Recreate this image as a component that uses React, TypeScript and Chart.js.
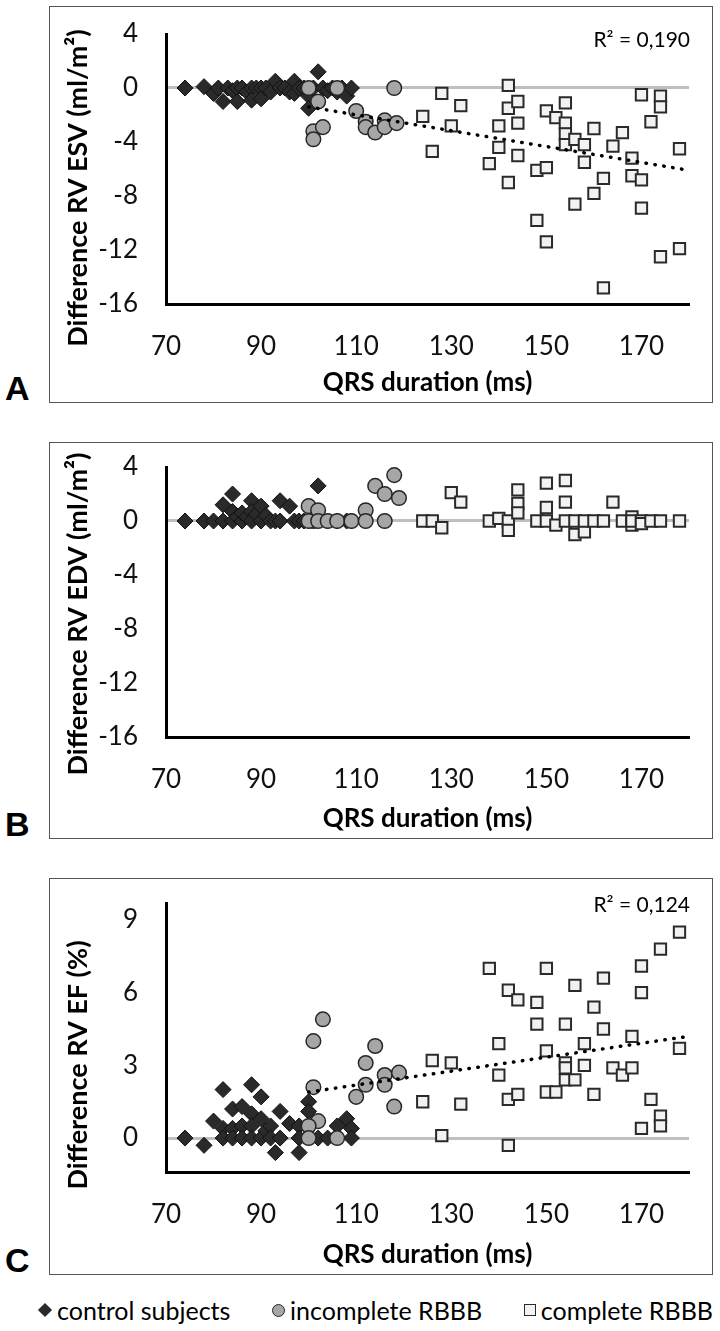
import React, { useEffect, useRef } from "react";
import { Chart, registerables } from "chart.js";

Chart.register(...registerables);
Chart.defaults.font.family = "Lato";

type Pt = [number, number];

// ---- shared axes ----
const xTicks = [70, 90, 110, 130, 150, 170];
const xRange: Pt = [70, 180];
const volumeTicks = [4, 0, -4, -8, -12, -16];
const volumeRange: Pt = [-16, 4];
const efTicks = [9, 6, 3, 0];
const efRange: Pt = [-1.4, 9.7];

const seriesNames = ["control subjects", "incomplete RBBB", "complete RBBB"];
const xTitle = "QRS duration (ms)";

// ---- panel A: ESV ----
const controlESV: Pt[] = [
  [74, 0], [78, 0.1], [80, -0.4], [81, 0], [82, -1.0], [83, 0], [84, -0.2], [85, 0], [85, -1.0],
  [86, 0], [87, -0.3], [88, 0], [88, -0.9], [89, 0], [90, 0], [90, -0.8], [91, 0], [92, -0.3],
  [93, 0.5], [94, 0], [95, 0], [96, -0.3], [97, 0.5], [97, -0.4], [98, 0], [99, 0], [100, -0.6],
  [100, -1.5], [101, 0], [102, 1.2], [103, 0], [104, -0.2], [105, 0], [106, -0.3], [107, 0],
  [108, -0.6], [109, 0],
];
const incompleteESV: Pt[] = [
  [100, 0], [102, -1.0], [106, 0], [118, 0], [101, -3.2], [101, -3.8], [103, -2.9], [110, -1.7],
  [112, -2.5], [112, -2.9], [114, -3.3], [116, -2.4], [116, -2.9], [118.5, -2.6],
];
const completeESV: Pt[] = [
  [124, -2.1], [126, -4.7], [128, -0.4], [130, -2.8], [132, -1.3], [138, -5.6], [140, -2.8],
  [140, -4.4], [142, 0.2], [142, -1.5], [142, -7.0], [144, -1.0], [144, -2.6], [144, -5.0],
  [148, -6.1], [148, -9.8], [150, -5.9], [150, -11.4], [150, -1.7], [152, -2.2], [154, -1.1],
  [154, -2.6], [154, -3.4], [154, -4.2], [156, -3.8], [156, -8.6], [158, -4.2], [158, -5.5],
  [160, -3.0], [160, -7.8], [162, -6.7], [162, -14.8], [164, -4.3], [166, -3.3], [168, -5.2],
  [168, -6.5], [170, -6.8], [170, -8.9], [170, -0.5], [172, -2.5], [174, -0.6], [174, -1.4],
  [174, -12.5], [178, -4.5], [178, -11.9],
];
const trendESV: Pt[] = [[100, -1.4], [180, -6.1]];
const r2ESV = "R² = 0,190";

// ---- panel B: EDV ----
const controlEDV: Pt[] = [
  [74, 0], [78, 0], [80, 0], [82, 1.2], [82, 0], [84, 2.0], [84, 0.7], [84, 0], [85, 0.3], [86, 0],
  [86, 0.6], [87, 0.3], [88, 1.5], [88, 0.7], [88, 0], [89, 0.5], [90, 1.1], [90, 0], [91, 0.4],
  [92, 0], [93, 0], [94, 1.5], [94, 0], [96, 1.1], [97, 0], [98, 0], [99, 0], [102, 2.6], [104, 0],
  [106, 0], [108, 0], [109, 0],
];
const incompleteEDV: Pt[] = [
  [100, 1.1], [101, 0], [100, 0], [102, 0.8], [102, 0], [104, 0], [106, 0], [109, 0], [112, 0.8],
  [112, 0], [114, 2.6], [116, 2.0], [116, 0], [118, 3.4], [119, 1.7],
];
const completeEDV: Pt[] = [
  [124, 0], [126, 0], [128, -0.5], [130, 2.1], [132, 1.4], [138, 0], [140, 0.2], [142, 0],
  [142, -0.7], [144, 2.3], [144, 1.3], [144, 0.6], [148, 0], [150, 2.8], [150, 1.0], [150, 0],
  [152, -0.3], [154, 3.0], [154, 1.4], [154, 0], [156, 0], [156, -1.0], [158, -0.8], [158, 0],
  [160, 0], [162, 0], [164, 1.4], [166, 0], [168, 0.3], [168, -0.3], [168, 0], [170, 0],
  [170, -0.2], [172, 0], [174, 0], [178, 0],
];

// ---- panel C: EF ----
const controlEF: Pt[] = [
  [74, 0], [78, -0.3], [80, 0.7], [82, 2.0], [82, 0.4], [82, 0], [84, 1.2], [84, 0.4], [84, 0],
  [86, 1.3], [86, 0.5], [86, 0], [88, 2.2], [88, 1.0], [88, 0.5], [88, 0], [90, 1.7], [90, 0.8],
  [90, 0], [91, 0.3], [92, 0.5], [92, 0], [93, -0.6], [94, 1.1], [94, 0], [96, 0.6], [98, 0.5],
  [98, 0], [98, -0.6], [100, 1.5], [100, 1.1], [100, 0.5], [102, 0], [104, 0], [106, 0.5],
  [108, 0.8], [109, 0.4], [109, 0],
];
const incompleteEF: Pt[] = [
  [103, 4.9], [101, 4.0], [101, 2.1], [102, 0.7], [100, 0.5], [100, 0], [106, 0], [114, 3.8],
  [112, 3.1], [110, 1.7], [112, 2.2], [116, 2.6], [116, 2.2], [119, 2.7], [118, 1.3],
];
const completeEF: Pt[] = [
  [124, 1.5], [126, 3.2], [128, 0.1], [130, 3.1], [132, 1.4], [138, 7.0], [140, 3.9], [140, 2.6],
  [142, 6.1], [142, 1.6], [142, -0.3], [144, 5.7], [144, 1.8], [148, 5.6], [148, 4.7], [150, 7.0],
  [150, 3.6], [150, 1.9], [152, 1.9], [154, 4.7], [154, 3.1], [154, 2.9], [154, 2.4], [156, 6.3],
  [156, 2.4], [158, 3.9], [158, 3.0], [160, 5.4], [160, 1.8], [162, 6.6], [162, 4.5], [164, 2.9],
  [166, 2.6], [168, 4.2], [168, 2.9], [170, 7.1], [170, 6.0], [170, 0.4], [172, 1.6], [174, 7.8],
  [174, 0.9], [174, 0.5], [178, 8.5], [178, 3.7],
];
const trendEF: Pt[] = [[100, 1.9], [180, 4.2]];
const r2EF = "R² = 0,124";

// ---- layout ----
const BOX_LEFT = 49;
const BOX_W = 664;
const BOX_H = 397;
const Y_AXIS_W = 117;
const RIGHT_PAD = 24;

interface PanelDef {
  letter: string;
  top: number;
  yTitle: string;
  ticks: number[];
  range: Pt;
  control: Pt[];
  incomplete: Pt[];
  complete: Pt[];
  trend?: Pt[];
  r2?: string;
  plotTop: number;
  plotBottom: number;
  yTitleY: number;
  r2Y: number;
}

const panels: PanelDef[] = [
  {
    letter: "A", top: 6, yTitle: "Difference RV ESV (ml/m²)", ticks: volumeTicks, range: volumeRange,
    control: controlESV, incomplete: incompleteESV, complete: completeESV, trend: trendESV, r2: r2ESV,
    plotTop: 28, plotBottom: 298, yTitleY: 182, r2Y: 34,
  },
  {
    letter: "B", top: 442, yTitle: "Difference RV EDV (ml/m²)", ticks: volumeTicks, range: volumeRange,
    control: controlEDV, incomplete: incompleteEDV, complete: completeEDV,
    plotTop: 25, plotBottom: 295, yTitleY: 172, r2Y: 0,
  },
  {
    letter: "C", top: 878, yTitle: "Difference RV EF (%)", ticks: efTicks, range: efRange,
    control: controlEF, incomplete: incompleteEF, complete: completeEF, trend: trendEF, r2: r2EF,
    plotTop: 25, plotBottom: 294, yTitleY: 187, r2Y: 27,
  },
];

const toXY = (arr: Pt[]) => arr.map(([x, y]) => ({ x, y }));

const overlayText = {
  id: "overlayText",
  afterDraw(chart: any, _args: any, opts: any) {
    const ctx = chart.ctx as CanvasRenderingContext2D;
    ctx.save();
    ctx.fillStyle = "#000";
    ctx.font = "bold 27px Lato";
    ctx.textAlign = "center";
    ctx.textBaseline = "middle";
    ctx.translate(opts.yTitleX, opts.yTitleY);
    ctx.rotate(-Math.PI / 2);
    ctx.fillText(opts.yTitle, 0, 0);
    ctx.restore();
    if (opts.r2) {
      ctx.save();
      ctx.fillStyle = "#000";
      ctx.font = "21px Lato";
      ctx.textAlign = "right";
      ctx.textBaseline = "middle";
      ctx.fillText(opts.r2, opts.r2X, opts.r2Y);
      ctx.restore();
    }
  },
};

function Panel({ p }: { p: PanelDef }) {
  const ref = useRef<HTMLCanvasElement>(null);
  useEffect(() => {
    const datasets: any[] = [
      {
        label: seriesNames[0], data: toXY(p.control), pointStyle: "rectRot", pointRadius: 8,
        backgroundColor: "#2a2a2a", borderColor: "#111", borderWidth: 1, order: 3,
      },
      {
        label: seriesNames[1], data: toXY(p.incomplete), pointStyle: "circle", pointRadius: 7.3,
        backgroundColor: "#a6a6a6", borderColor: "#262626", borderWidth: 1.5, order: 2,
      },
      {
        label: seriesNames[2], data: toXY(p.complete), pointStyle: "rect", pointRadius: 8,
        backgroundColor: "#f2f2f2", borderColor: "#2a2a2a", borderWidth: 2, order: 1,
      },
    ];
    if (p.trend) {
      datasets.push({
        label: "trend", data: toXY(p.trend), showLine: true, pointRadius: 0, borderColor: "#000",
        borderWidth: 3.5, borderDash: [0.5, 8.5], borderCapStyle: "round", fill: false, order: 0,
      });
    }
    const sortAsc = (a: number[]) => a.slice().sort((m, n) => m - n);
    const chart = new Chart(ref.current!, {
      type: "scatter",
      data: { datasets },
      options: {
        animation: false,
        responsive: false,
        devicePixelRatio: 1,
        events: [],
        layout: { padding: { top: p.plotTop, right: RIGHT_PAD, bottom: 0, left: 0 } },
        plugins: {
          legend: { display: false },
          tooltip: { enabled: false },
          overlayText: {
            yTitle: p.yTitle, yTitleX: 78 - BOX_LEFT, yTitleY: p.yTitleY,
            r2: p.r2, r2X: 690 - BOX_LEFT, r2Y: p.r2Y,
          },
        } as any,
        scales: {
          x: {
            type: "linear", min: xRange[0], max: xRange[1],
            afterBuildTicks: (s: any) => { s.ticks = xTicks.map((v) => ({ value: v })); },
            afterFit: (s: any) => {
              s.height = BOX_H - p.plotBottom;
              s.paddingLeft = 0; s.paddingRight = 0; s.paddingTop = 0; s.paddingBottom = 0;
            },
            grid: { display: false, drawTicks: false },
            border: { display: true, color: "#000", width: 3 },
            ticks: {
              font: { family: "Lato", size: 26 }, color: "#111", padding: 27, maxRotation: 0,
              autoSkip: false, callback: (v: any) => String(v),
            },
            title: {
              display: true, text: xTitle, color: "#000",
              font: { family: "Lato", size: 26, weight: "bold" }, padding: { top: 0, bottom: 5 },
            },
          },
          y: {
            type: "linear", min: p.range[0], max: p.range[1],
            afterBuildTicks: (s: any) => { s.ticks = sortAsc(p.ticks).map((v) => ({ value: v })); },
            afterFit: (s: any) => {
              s.width = Y_AXIS_W;
              s.paddingLeft = 0; s.paddingRight = 0; s.paddingTop = 0; s.paddingBottom = 0;
            },
            grid: {
              drawTicks: false, lineWidth: 3,
              color: (c: any) => (c.tick && c.tick.value === 0 ? "#bfbfbf" : "rgba(0,0,0,0)"),
            },
            border: { display: true, color: "#000", width: 3 },
            ticks: {
              font: { family: "Lato", size: 26 }, color: "#111", padding: 28,
              callback: (v: any) => String(v),
            },
          },
        },
      },
      plugins: [overlayText],
    });
    return () => chart.destroy();
  }, [p]);

  return (
    <>
      <div
        style={{
          position: "absolute", left: BOX_LEFT, top: p.top, width: BOX_W, height: BOX_H,
          border: "1px solid #555", boxSizing: "border-box",
        }}
      />
      <canvas
        ref={ref}
        width={BOX_W}
        height={BOX_H}
        style={{ position: "absolute", left: BOX_LEFT, top: p.top, width: BOX_W, height: BOX_H }}
      />
      <div
        style={{
          position: "absolute", left: 5, top: p.top + 363, lineHeight: "34px",
          font: 'bold 34px "Liberation Sans", Arial, sans-serif', color: "#000",
        }}
      >
        {p.letter}
      </div>
    </>
  );
}

function Legend() {
  const markers = [
    <div key="d" style={{ width: 10, height: 10, background: "#2a2a2a", transform: "rotate(45deg)", margin: "0 2px" }} />,
    <div key="c" style={{ width: 11, height: 11, borderRadius: "50%", background: "#a6a6a6", border: "1px solid #262626" }} />,
    <div key="s" style={{ width: 10, height: 10, background: "#f2f2f2", border: "1px solid #2a2a2a" }} />,
  ];
  return (
    <div
      style={{
        position: "absolute", left: 38, width: 675, top: 1295, height: 30, display: "flex",
        justifyContent: "space-between", alignItems: "center",
      }}
    >
      {seriesNames.map((name, i) => (
        <div
          key={name}
          style={{
            display: "flex", alignItems: "center", gap: 5, font: '25px Lato, sans-serif',
            color: "#000", whiteSpace: "nowrap",
          }}
        >
          {markers[i]}
          <span>{name}</span>
        </div>
      ))}
    </div>
  );
}

export default function App() {
  return (
    <div style={{ position: "absolute", left: 0, top: 0, width: 720, height: 1331, background: "#fff", overflow: "hidden" }}>
      {panels.map((p) => (
        <Panel key={p.letter} p={p} />
      ))}
      <Legend />
    </div>
  );
}
